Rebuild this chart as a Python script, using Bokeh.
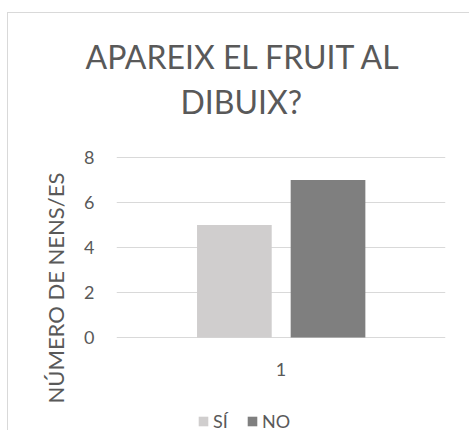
from bokeh.plotting import figure
from bokeh.models import (FactorRange, Range1d, FixedTicker, Title, ColumnDataSource,
                          Legend, LegendItem)
from bokeh.transform import dodge
from bokeh.embed import file_html
from bokeh.resources import INLINE

# ---- data ----
categories = ["1"]
si_values = [5]
no_values = [7]
series_names = ["SÍ", "NO"]
y_ticks = [0, 2, 4, 6, 8]
title_lines = ["APAREIX EL FRUIT AL", "DIBUIX?"]
y_title = "NÚMERO DE NENS/ES"

FONT = "Lato"
TXT = "#595959"
GRID = "#d9d9d9"
C_SI = "#d0cece"
C_NO = "#7f7f7f"

src = ColumnDataSource(dict(cat=categories, si=si_values, no=no_values))

# The frame is extended above the top gridline and below the baseline so that the
# legend can sit inside it; only the gridlines at the ticks are drawn.
p = figure(width=462, height=470,
           x_range=FactorRange(*categories), y_range=Range1d(-4.2667, 9.6444),
           output_backend="svg", toolbar_location=None,
           min_border_left=108, min_border_right=25,
           min_border_top=107, min_border_bottom=50)
p.styles = {"border-left": "1px solid #d9d9d9", "border-top": "1px solid #d9d9d9",
            "margin-top": "12px", "margin-left": "7px"}

r_si = p.vbar(x=dodge("cat", -0.1417, range=p.x_range), top="si", width=0.227,
              source=src, fill_color=C_SI, line_color=None)
r_no = p.vbar(x=dodge("cat", 0.1429, range=p.x_range), top="no", width=0.227,
              source=src, fill_color=C_NO, line_color=None)

p.outline_line_color = None
p.xgrid.grid_line_color = None
p.ygrid.grid_line_color = GRID
p.ygrid.grid_line_width = 1

p.yaxis.ticker = FixedTicker(ticks=y_ticks)
for ax in (p.xaxis[0], p.yaxis[0]):
    ax.axis_line_color = None
    ax.major_tick_line_color = None
    ax.minor_tick_line_color = None
    ax.major_tick_out = 0
    ax.major_tick_in = 0
    ax.minor_tick_out = 0
    ax.major_label_text_font = FONT
    ax.major_label_text_font_size = "18px"
    ax.major_label_text_color = TXT
p.yaxis.major_label_standoff = 22
p.xaxis.major_label_standoff = 26
p.xaxis.fixed_location = 0

# titles (first added sits closest to the frame)
p.add_layout(Title(text=title_lines[1], align="left", offset=64, standoff=0,
                   text_font=FONT, text_font_size="32px", text_font_style="normal",
                   text_color=TXT), "above")
p.add_layout(Title(text=title_lines[0], align="left", offset=-31, standoff=8,
                   text_font=FONT, text_font_size="32px", text_font_style="normal",
                   text_color=TXT), "above")
# y axis title
p.add_layout(Title(text=y_title, align="left", offset=30, standoff=25,
                   text_font=FONT, text_font_size="22px", text_font_style="normal",
                   text_color=TXT), "left")

lg = Legend(items=[LegendItem(label=series_names[0], renderers=[r_si]),
                   LegendItem(label=series_names[1], renderers=[r_no])],
            location=(81, 1), orientation="horizontal", padding=0, margin=0,
            border_line_color=None, background_fill_alpha=0,
            glyph_width=12, glyph_height=12, label_standoff=4, spacing=13,
            label_text_font=FONT, label_text_font_size="18px", label_text_color=TXT)
p.add_layout(lg)

open("out.html", "w").write(file_html(p, INLINE))
